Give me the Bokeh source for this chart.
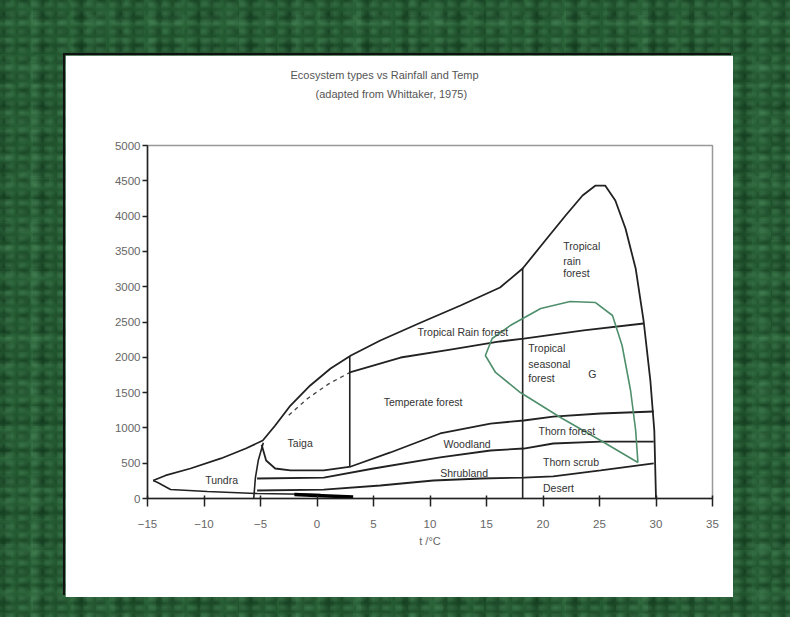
from bokeh.plotting import figure
from bokeh.models import Range1d, SingleIntervalTicker, Title, ColumnDataSource, Column
from bokeh.core.properties import value
from bokeh.embed import file_html
from bokeh.resources import INLINE

title_lines = ["Ecosystem types vs Rainfall and Temp", "(adapted from Whittaker, 1975)"]
x_label = "t /\u00b0C"

# outer envelope (top side, tundra tip -> 30 C)
outer_x = [-14.5, -13.4, -11.2, -8.5, -6.3, -4.8, -3.7, -2.35, -0.6, 1.2, 3.0, 5.6, 9.2, 12.7, 16.2, 18.2, 20.2, 22.0, 23.5, 24.65, 25.5, 26.4, 27.3, 28.2, 28.9, 29.5, 29.85, 30.0]
outer_y = [255, 326, 425, 567, 708, 822, 1034, 1317, 1601, 1841, 2025, 2238, 2493, 2734, 2989, 3258, 3654, 4008, 4292, 4433, 4433, 4221, 3824, 3258, 2521, 1671, 963, 0]
# tundra lower edge
tundra_x = [-14.5, -14.1, -12.96, -9.7, -5.3, 0.3]
tundra_y = [255, 227, 127, 99, 71, 57]
# thick segment on the floor
floor_x = [-2.0, 0.5, 3.2]
floor_y = [55, 40, 20]
# line 1: taiga / temperate forest / thorn forest lower edge
l1_x = [-4.9, -4.5, -3.7, -2.35, 0.6, 3.0, 6.5, 10.9, 15.35, 18.3, 20.9, 25.1, 29.8]
l1_y = [760, 538, 425, 397, 397, 453, 652, 921, 1062, 1105, 1161, 1204, 1232]
# line 2: woodland / thorn scrub upper edge
l2_x = [-5.3, 0.6, 5.0, 10.9, 15.35, 18.3, 20.9, 25.1, 29.8]
l2_y = [283, 297, 425, 581, 680, 708, 779, 807, 807]
# line 3: desert upper edge
l3_x = [-5.3, 0.6, 5.6, 10.3, 14.5, 18.3, 20.9, 25.1, 29.8]
l3_y = [113, 127, 184, 255, 283, 297, 312, 397, 496]
# rain forest line
rf_x = [2.9, 7.4, 11.8, 16.2, 18.3, 23.6, 28.9]
rf_y = [1785, 1997, 2110, 2224, 2266, 2380, 2479]
# dashed continuation
dash_x = [-2.5, -0.8, 1.0, 2.9]
dash_y = [1180, 1420, 1620, 1785]
# vertical boundaries
v1_x = [-4.75, -5.2, -5.45, -5.6]
v1_y = [790, 538, 297, 0]
v2_x = [2.9, 2.9]
v2_y = [2010, 453]
v3_x = [18.2, 18.2]
v3_y = [3270, 0]
# green loop
g_x = [28.4, 25.1, 21.55, 18.0, 15.8, 14.9, 15.5, 17.1, 19.8, 22.4, 24.65, 26.15, 27.0, 27.75, 28.2, 28.4]
g_y = [510, 821, 1147, 1501, 1785, 2025, 2266, 2450, 2691, 2790, 2776, 2592, 2167, 1530, 963, 510]

label_text = ["Tropical", "rain", "forest", "Tropical Rain forest", "Tropical", "seasonal", "forest", "G",
              "Temperate forest", "Taiga", "Tundra", "Woodland", "Shrubland", "Thorn forest", "Thorn scrub", "Desert"]
label_x = [21.8, 21.8, 21.8, 8.9, 18.7, 18.7, 18.7, 24.0, 5.9, -2.6, -9.9, 11.2, 10.9, 19.6, 20.0, 20.0]
label_y = [3583, 3371, 3187, 2365, 2125, 1912, 1700, 1770, 1360, 793, 255, 779, 368, 963, 510, 142]

FONT = "Liberation Sans"

p = figure(width=668, height=542, output_backend="svg", toolbar_location=None,
           x_range=Range1d(-15, 35), y_range=Range1d(0, 5000),
           min_border_left=82, min_border_right=21, min_border_top=90, min_border_bottom=99,
           background_fill_color="white", border_fill_color="white")
p.margin = (63, 57, 20, 73)
p.styles = {"box-shadow": "-2px -2px 0 #111"}
p.outline_line_color = "#999"
p.outline_line_width = 1.5
p.grid.visible = False

p.xaxis.ticker = SingleIntervalTicker(interval=5)
p.yaxis.ticker = SingleIntervalTicker(interval=500)
for ax in (p.xaxis, p.yaxis):
    ax.minor_tick_line_color = None
    ax.axis_line_color = "#222"
    ax.axis_line_width = 1.5
    ax.major_tick_line_color = "#222"
    ax.major_tick_line_width = 1.5
    ax.major_label_text_font = FONT
    ax.major_label_text_font_size = "11.5px"
    ax.major_label_text_color = "#666"
p.xaxis.major_tick_in = 3
p.xaxis.major_tick_out = 8
p.xaxis.major_label_standoff = 13
p.xaxis.axis_label = x_label
p.xaxis.axis_label_text_font = FONT
p.xaxis.axis_label_text_font_size = "11px"
p.xaxis.axis_label_text_font_style = "normal"
p.xaxis.axis_label_text_color = "#666"
p.xaxis.axis_label_standoff = 4
p.yaxis.major_tick_in = 0
p.yaxis.major_tick_out = 5
p.yaxis.major_label_standoff = 2

LC = "#222"
p.line(outer_x, outer_y, line_color=LC, line_width=1.8)
p.line(tundra_x, tundra_y, line_color=LC, line_width=1.6)
p.line(floor_x, floor_y, line_color="#000", line_width=3.5)
p.line(l1_x, l1_y, line_color=LC, line_width=1.8)
p.line(l2_x, l2_y, line_color=LC, line_width=1.8)
p.line(l3_x, l3_y, line_color=LC, line_width=1.8)
p.line(rf_x, rf_y, line_color=LC, line_width=1.8)
p.line(dash_x, dash_y, line_color="#444", line_width=1.3, line_dash="4 4")
p.line(v1_x, v1_y, line_color=LC, line_width=1.6)
p.line(v2_x, v2_y, line_color=LC, line_width=1.6)
p.line(v3_x, v3_y, line_color=LC, line_width=1.6)
p.line(g_x, g_y, line_color="#4f8f6c", line_width=1.6)

src = ColumnDataSource(dict(x=label_x, y=label_y, t=label_text))
p.text(x="x", y="y", text="t", source=src, text_font=value(FONT), text_font_size="10.5px",
       text_color="#333", text_baseline="middle", text_align="left")

# titles: the one added first sits closest to the plot frame
p.title.visible = False
spacer = Title(text=" ", text_font=FONT, text_font_size="11px", standoff=29)
t2 = Title(text=title_lines[1], align="left", offset=168, text_font=FONT, text_font_size="11px",
           text_font_style="normal", text_color="#555", standoff=6)
t1 = Title(text=title_lines[0], align="left", offset=143, text_font=FONT, text_font_size="11px",
           text_font_style="normal", text_color="#555", standoff=4)
p.add_layout(spacer, "above")
p.add_layout(t2, "above")
p.add_layout(t1, "above")

green_css = {
    "background-color": "#245a31",
    "background-image": (
        "radial-gradient(ellipse at 30% 40%, rgba(120,190,140,0.22) 0, transparent 60%),"
        "radial-gradient(ellipse at 70% 60%, rgba(5,35,15,0.40) 0, transparent 55%),"
        "radial-gradient(ellipse at 50% 20%, rgba(100,170,120,0.20) 0, transparent 50%),"
        "radial-gradient(ellipse at 20% 80%, rgba(8,40,18,0.35) 0, transparent 50%),"
        "radial-gradient(ellipse at 60% 50%, rgba(90,160,110,0.15) 0, transparent 45%)"
    ),
    "background-size": "13px 9px, 19px 15px, 29px 23px, 41px 31px, 67px 53px",
}
root = Column(children=[p], margin=(-8, 0, 0, -8), width=798, height=625, styles=green_css)

open("out.html", "w").write(file_html(root, INLINE))
